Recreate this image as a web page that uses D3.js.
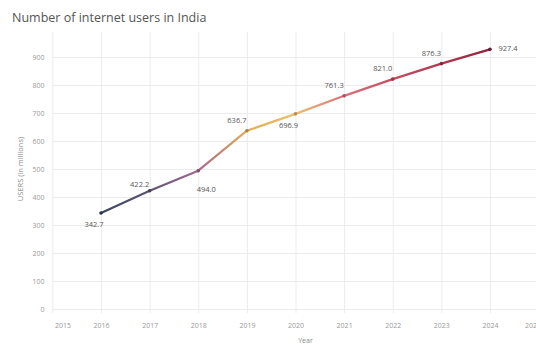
<!DOCTYPE html>
<html>
<head>
<meta charset="utf-8">
<script src="https://cdn.jsdelivr.net/npm/d3@7"></script>
<style>
  body { margin: 0; background: #fff; }
  text { font-family: "Open Sans", "DejaVu Sans", sans-serif; }
  .grid line { stroke: #ececec; stroke-width: 1; }
  .grid path { display: none; }
  .tick text { fill: #9a9a9a; font-size: 7px; }
</style>
</head>
<body>
<div id="chart"></div>
<script>
  var years = [2016, 2017, 2018, 2019, 2020, 2021, 2022, 2023, 2024];
  var users = [342.7, 422.2, 494.0, 636.7, 696.9, 761.3, 821.0, 876.3, 927.4];
  var labelSide = ['below', 'above', 'belowRight', 'aboveLeft', 'below', 'aboveLeft', 'aboveLeft', 'aboveLeft', 'right'];
  var xTicks = [2015, 2016, 2017, 2018, 2019, 2020, 2021, 2022, 2023, 2024, 2025];
  var yTicks = [0, 100, 200, 300, 400, 500, 600, 700, 800, 900];
  var lineColors = ['#3b4563', '#5c5573', '#a8688f', '#e2ae55', '#ecc06e', '#d8727f', '#c44e60', '#b03850', '#94203e'];

  var width = 536;
  var height = 345;
  var plotTop = 32;

  var x = d3.scaleLinear().domain([2015, 2025]).range([52.4, 538.6]);
  var y = d3.scaleLinear().domain([0, 900]).range([309, 57]);

  var svg = d3.select('#chart').append('svg')
    .attr('width', width)
    .attr('height', height);

  // Title.
  svg.append('text')
    .attr('x', 12)
    .attr('y', 22)
    .attr('fill', '#555')
    .style('font-size', '12.5px')
    .text('Number of internet users in India');

  // Horizontal grid + y labels.
  svg.append('g')
    .attr('class', 'grid')
    .attr('transform', 'translate(' + x(2015) + ',0)')
    .call(d3.axisLeft(y).tickValues(yTicks).tickSize(-(width - x(2015))).tickPadding(6))
    .selectAll('.tick text')
    .attr('x', -8);

  // Vertical grid + x labels.
  var xAxis = svg.append('g')
    .attr('class', 'grid')
    .attr('transform', 'translate(0,' + (y(0) + 4) + ')')
    .call(d3.axisBottom(x).tickValues(xTicks).tickFormat(d3.format('d'))
      .tickSize(-(y(0) + 4 - plotTop)).tickPadding(10));
  xAxis.selectAll('.tick text')
    .attr('dx', function(d) { return d === 2015 ? 10 : (d === 2025 ? -6 : 0); });

  // Axis titles.
  svg.append('text')
    .attr('transform', 'translate(23,' + y(500) + ') rotate(-90)')
    .attr('text-anchor', 'middle')
    .attr('fill', '#888')
    .style('font-size', '7.5px')
    .text('USERS (in millions)');

  svg.append('text')
    .attr('x', x(2020) + 10)
    .attr('y', 343)
    .attr('text-anchor', 'middle')
    .attr('fill', '#888')
    .style('font-size', '7px')
    .text('Year');

  // Gradient along the line.
  var grad = svg.append('defs').append('linearGradient')
    .attr('id', 'lineGrad')
    .attr('gradientUnits', 'userSpaceOnUse')
    .attr('x1', x(years[0])).attr('y1', 0)
    .attr('x2', x(years[years.length - 1])).attr('y2', 0);

  grad.selectAll('stop')
    .data(lineColors)
    .enter().append('stop')
    .attr('offset', function(d, i) { return (i / (lineColors.length - 1) * 100) + '%'; })
    .attr('stop-color', function(d) { return d; });

  var points = years.map(function(yr, i) { return { year: yr, value: users[i], side: labelSide[i] }; });

  var line = d3.line()
    .x(function(d) { return x(d.year); })
    .y(function(d) { return y(d.value); });

  svg.append('path')
    .datum(points)
    .attr('fill', 'none')
    .attr('stroke', 'url(#lineGrad)')
    .attr('stroke-width', 2.2)
    .attr('stroke-linejoin', 'round')
    .attr('d', line);

  svg.selectAll('.dot')
    .data(points)
    .enter().append('circle')
    .attr('class', 'dot')
    .attr('cx', function(d) { return x(d.year); })
    .attr('cy', function(d) { return y(d.value); })
    .attr('r', 1.8)
    .attr('fill', function(d, i) { return d3.color(lineColors[i]).darker(0.8); });

  var offsets = {
    below: [-7, 14],
    above: [-10, -4],
    belowRight: [8, 21],
    aboveLeft: [-10, -8],
    right: [18, 2]
  };

  svg.selectAll('.value-label')
    .data(points)
    .enter().append('text')
    .attr('class', 'value-label')
    .attr('x', function(d) { return x(d.year) + offsets[d.side][0]; })
    .attr('y', function(d) { return y(d.value) + offsets[d.side][1]; })
    .attr('text-anchor', 'middle')
    .attr('fill', '#555')
    .style('font-size', '7.5px')
    .text(function(d) { return d3.format('.1f')(d.value); });
</script>
</body>
</html>
